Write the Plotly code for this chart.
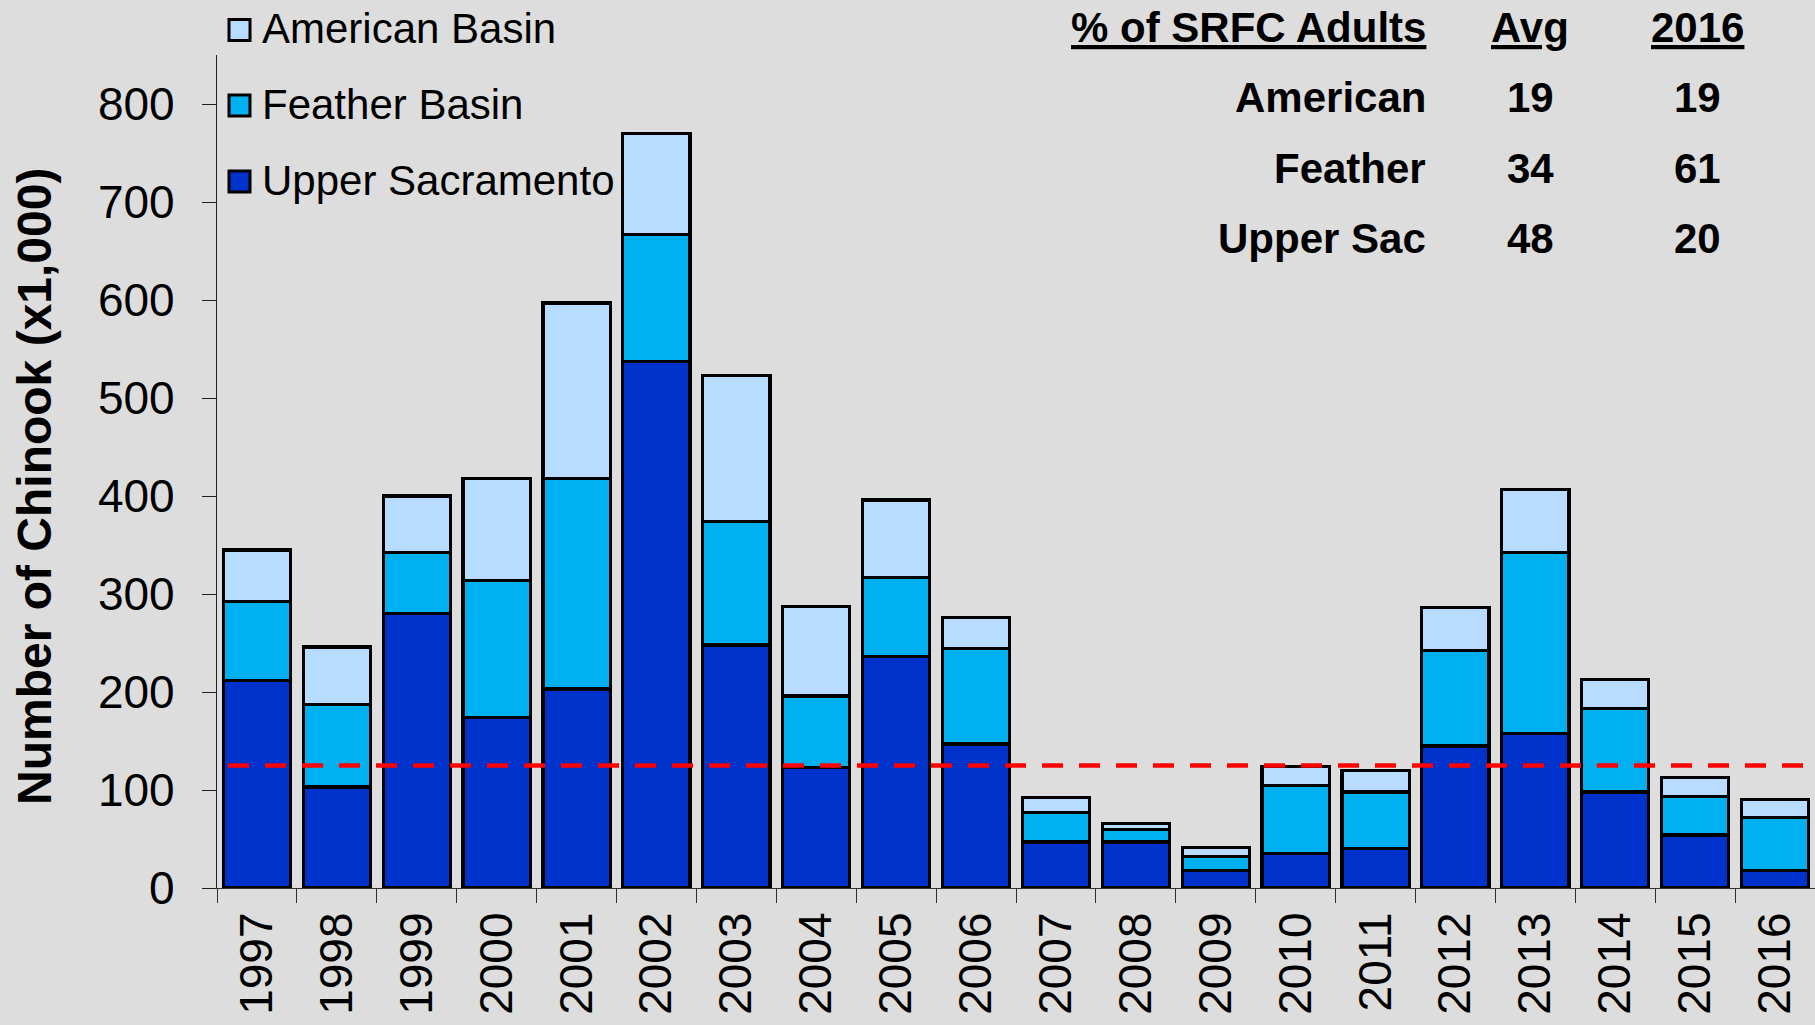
import plotly.graph_objects as go

# ---------------- data ----------------
years = ["1997", "1998", "1999", "2000", "2001", "2002", "2003", "2004", "2005", "2006",
         "2007", "2008", "2009", "2010", "2011", "2012", "2013", "2014", "2015", "2016"]
upper_sacramento = [212, 103, 280, 174, 203, 537, 248, 123, 236, 147, 47, 47, 18, 35, 40, 145, 158, 98, 54, 18]
feather_basin = [80, 84, 62, 140, 215, 130, 126, 73, 81, 97, 30, 13, 14, 70, 58, 97, 184, 85, 39, 54]
american_basin = [53, 59, 58, 104, 179, 103, 149, 91, 79, 32, 15, 6, 9, 19, 22, 44, 65, 30, 20, 18]
reference_level = 125

series_names = ["Upper Sacramento", "Feather Basin", "American Basin"]
series_colors = ["#0033CC", "#00B0F0", "#B8DCFF"]

y_title = "Number of Chinook (x1,000)"
table_header = ["% of SRFC Adults", "Avg", "2016"]
table_rows = ["American", "Feather", "Upper Sac"]
avg_pct = [19, 34, 48]
pct_2016 = [19, 61, 20]

# ---------------- layout geometry (pixels) ----------------
W, H = 1815, 1025
L, R, T, B = 217, 0, 55, 137
PW, PH = W - L - R, H - T - B
FONT = "Liberation Sans"


def px_x(x):
    return (x - L) / PW


def px_y(y):
    return (H - B - y) / PH


fig = go.Figure()
for name, vals, col in zip(series_names, [upper_sacramento, feather_basin, american_basin], series_colors):
    fig.add_trace(go.Bar(
        x=years, y=vals, name=name,
        marker=dict(color=col, line=dict(color="black", width=3.2)),
        showlegend=False,
    ))

shapes = []
# red dashed reference line
shapes.append(dict(type="line", xref="paper", yref="y", x0=px_x(228), x1=1,
                   y0=reference_level, y1=reference_level,
                   line=dict(color="#FF0000", width=4.7, dash="21px,16px"), layer="above"))

annotations = []
# y-axis title
annotations.append(dict(text=y_title, xref="paper", yref="paper", textangle=-90,
                        x=px_x(34), y=px_y(487), xanchor="center", yanchor="middle",
                        showarrow=False, font=dict(family=FONT, size=48, color="black", weight="bold")))

# manual legend (top to bottom: American, Feather, Upper Sac)
leg_centers = [30, 105.5, 181.5]
for i, idx in enumerate([2, 1, 0]):
    cy = leg_centers[i]
    shapes.append(dict(type="rect", xref="paper", yref="paper",
                       x0=px_x(229), x1=px_x(250), y0=px_y(cy + 10.5), y1=px_y(cy - 10.5),
                       fillcolor=series_colors[idx], line=dict(color="black", width=3), layer="above"))
    annotations.append(dict(text=series_names[idx], xref="paper", yref="paper",
                            x=px_x(260), y=px_y(cy - 1), xanchor="left", yanchor="middle",
                            showarrow=False, font=dict(family=FONT, size=42, color="black")))

# table of percentages
hdr_y = 28
row_ys = [98, 168, 238]
col_label_right = 1428
col_avg = 1530
col_2016 = 1697
bold = dict(family=FONT, size=42, color="black", weight="bold")
annotations.append(dict(text="<u>" + table_header[0] + "</u>", xref="paper", yref="paper",
                        x=px_x(col_label_right), y=px_y(hdr_y), xanchor="right", yanchor="middle",
                        showarrow=False, font=bold))
for cx, txt in [(col_avg, table_header[1]), (col_2016, table_header[2])]:
    annotations.append(dict(text="<u>" + txt + "</u>", xref="paper", yref="paper",
                            x=px_x(cx), y=px_y(hdr_y), xanchor="center", yanchor="middle",
                            showarrow=False, font=bold))
for ry, lab, a, b in zip(row_ys, table_rows, avg_pct, pct_2016):
    annotations.append(dict(text=lab, xref="paper", yref="paper",
                            x=px_x(col_label_right), y=px_y(ry), xanchor="right", yanchor="middle",
                            showarrow=False, font=bold))
    for cx, v in [(col_avg, a), (col_2016, b)]:
        annotations.append(dict(text=str(v), xref="paper", yref="paper",
                                x=px_x(cx), y=px_y(ry), xanchor="center", yanchor="middle",
                                showarrow=False, font=bold))

fig.update_layout(
    width=W, height=H,
    margin=dict(l=L, r=R, t=T, b=B, pad=0),
    barmode="stack", bargap=0.16,
    paper_bgcolor="#DDDDDD", plot_bgcolor="#DDDDDD",
    font=dict(family=FONT, color="black"),
    shapes=shapes, annotations=annotations,
    xaxis=dict(
        type="category", tickangle=-90, tickson="boundaries",
        ticks="outside", ticklen=14, tickwidth=1.2, tickcolor="#333333",
        showline=True, linecolor="#333333", linewidth=1.2,
        tickfont=dict(family=FONT, size=46, color="black"),
        ticklabelstandoff=5, showgrid=False, automargin=False,
    ),
    yaxis=dict(
        range=[0, 850], tickvals=[0, 100, 200, 300, 400, 500, 600, 700, 800],
        ticks="outside", ticklen=14, tickwidth=1.3, tickcolor="#222222",
        showline=True, linecolor="#222222", linewidth=1.3,
        tickfont=dict(family=FONT, size=46, color="black"),
        ticklabelstandoff=18, showgrid=False, zeroline=False, automargin=False,
    ),
)

fig.write_html(
    "out.html",
    config={"displayModeBar": False},
    post_script="document.body.style.margin='0';document.body.style.overflow='hidden';"
                "document.body.style.background='#DDDDDD';",
)
